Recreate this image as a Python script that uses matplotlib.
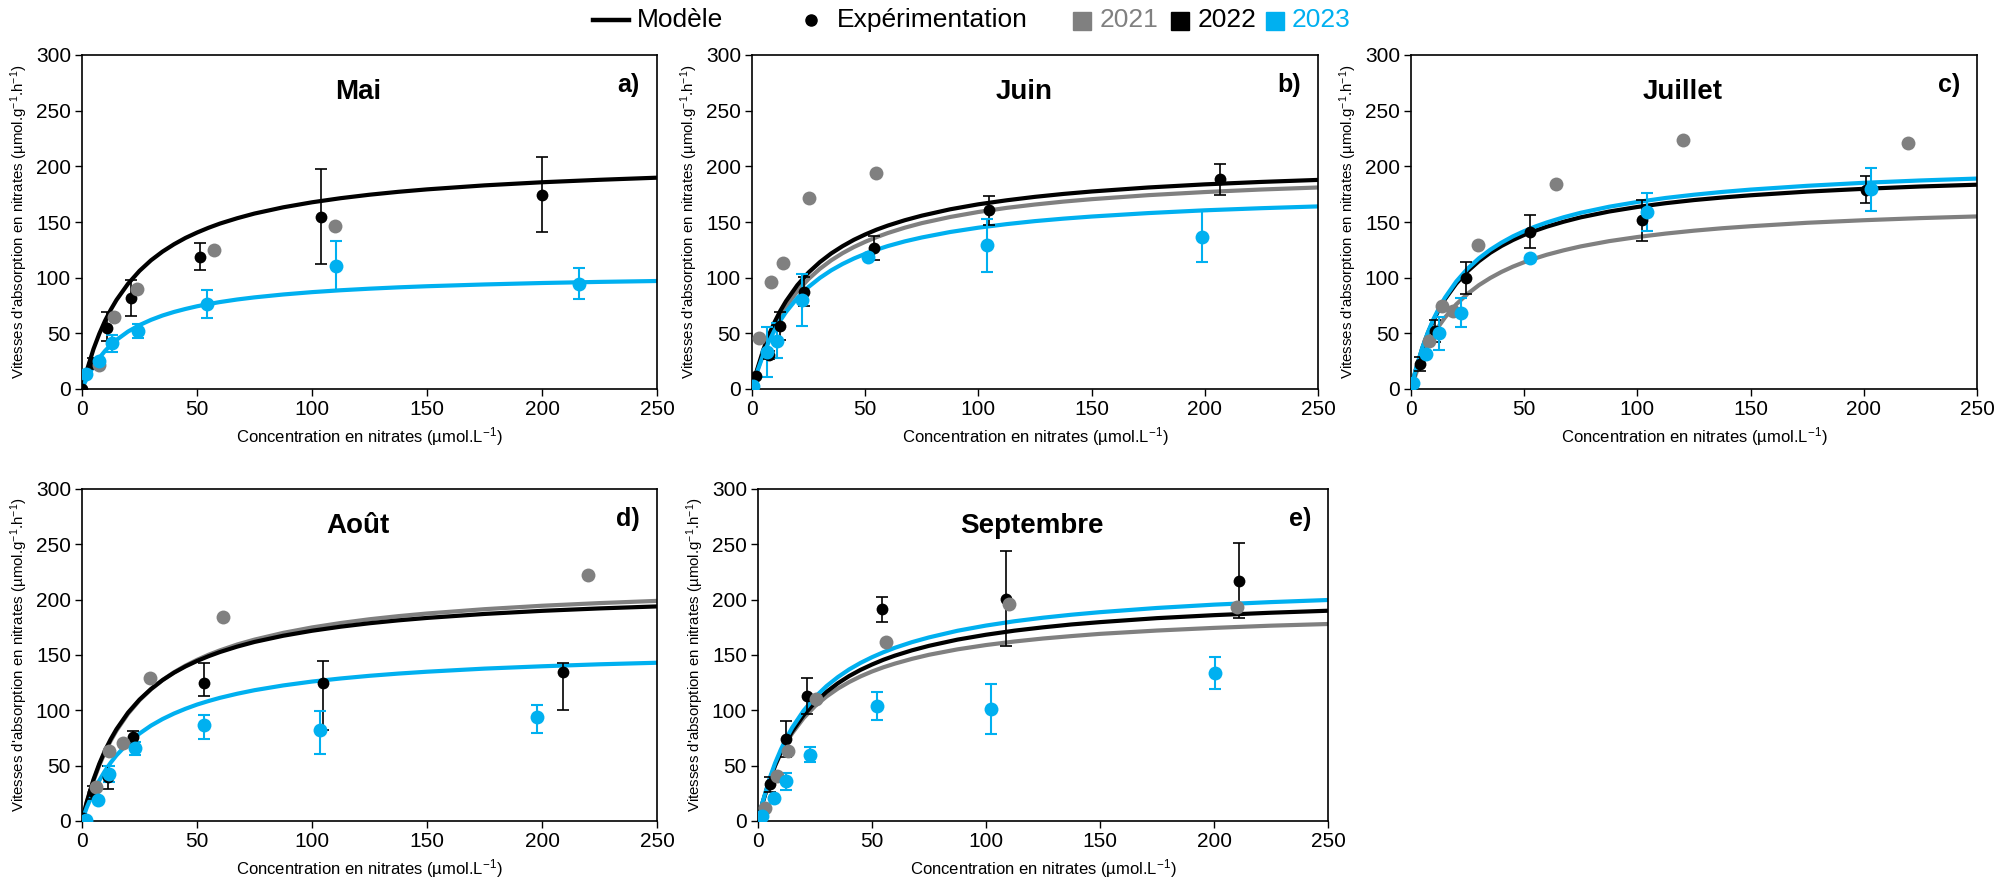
import matplotlib
matplotlib.use("Agg")
import matplotlib.pyplot as plt

# ------------------------------------------------------------------------------------------
# fonts
plt.rcParams['font.family'] = ['Liberation Sans Narrow', 'Liberation Sans', 'DejaVu Sans']
plt.rcParams['mathtext.fontset'] = 'custom'
plt.rcParams['mathtext.rm'] = 'Liberation Sans'
plt.rcParams['mathtext.it'] = 'Liberation Sans:italic'
plt.rcParams['mathtext.bf'] = 'Liberation Sans:bold'

col_2021 = "#808080"
col_2022 = "#000000"
col_2023 = "#00B0F0"

# ------------------------------------------------------------------------------------------
# model curves (values read on the figure at these concentrations)
x_model = [0, 2, 5, 7.5, 10, 12.5, 15, 20, 25, 30, 35, 40, 45, 50, 55, 60, 67.5, 75, 87.5, 100,
           112.5, 125, 137.5, 150, 175, 200, 225, 250]

mai_model_2022 = [0, 16.0, 35.9, 49.5, 61.2, 71.2, 80.0, 94.5, 106.1, 115.6, 123.4, 130.0, 135.7, 140.5,
                  144.8, 148.6, 153.4, 157.6, 163.2, 167.7, 171.4, 174.5, 177.1, 179.3, 182.9, 185.7, 187.9, 189.8]
mai_model_2023 = [0, 9.3, 20.4, 27.9, 34.2, 39.5, 44.1, 51.6, 57.4, 62.1, 66.0, 69.2, 71.9, 74.3,
                  76.3, 78.1, 80.4, 82.3, 84.9, 87.0, 88.7, 90.1, 91.3, 92.3, 93.9, 95.2, 96.2, 97.0]

juin_model_2021 = [0, 14.6, 32.8, 45.5, 56.3, 65.8, 74.0, 87.8, 98.9, 108.0, 115.6, 122.0, 127.5, 132.2,
                   136.4, 140.1, 144.9, 149.0, 154.5, 159.0, 162.7, 165.7, 168.3, 170.5, 174.1, 176.9, 179.2, 181.0]
juin_model_2022 = [0, 15.7, 35.3, 48.7, 60.2, 70.2, 78.8, 93.2, 104.7, 114.0, 121.8, 128.3, 134.0, 138.8,
                   143.1, 146.8, 151.6, 155.7, 161.4, 165.9, 169.5, 172.6, 175.2, 177.4, 181.0, 183.8, 186.0, 187.8]
juin_model_2023 = [0, 13.8, 31.0, 42.8, 52.9, 61.5, 69.1, 81.7, 91.7, 99.8, 106.6, 112.3, 117.2, 121.4,
                   125.1, 128.4, 132.6, 136.1, 141.0, 144.9, 148.1, 150.8, 153.0, 154.9, 158.0, 160.5, 162.4, 164.0]

juil_model_2021 = [0, 12.7, 28.6, 39.6, 49.0, 57.1, 64.2, 76.1, 85.5, 93.3, 99.7, 105.2, 109.9, 113.9,
                   117.4, 120.6, 124.6, 128.1, 132.8, 136.5, 139.6, 142.2, 144.4, 146.2, 149.3, 151.6, 153.5, 155.0]
juil_model_2022 = [0, 16.5, 36.7, 50.5, 62.0, 72.0, 80.6, 94.7, 105.8, 114.8, 122.3, 128.5, 133.8, 138.4,
                   142.3, 145.8, 150.3, 154.2, 159.4, 163.5, 166.9, 169.7, 172.0, 174.0, 177.3, 179.8, 181.9, 183.5]
juil_model_2023 = [0, 16.7, 37.2, 51.2, 63.1, 73.2, 82.0, 96.6, 108.1, 117.4, 125.1, 131.5, 137.1, 141.8,
                   146.0, 149.6, 154.3, 158.3, 163.7, 168.0, 171.6, 174.5, 177.0, 179.1, 182.5, 185.2, 187.3, 189.0]

aout_model_2021 = [0, 16.1, 36.3, 50.2, 62.2, 72.6, 81.7, 96.9, 109.1, 119.0, 127.3, 134.4, 140.4, 145.6,
                   150.2, 154.2, 159.5, 163.9, 170.0, 174.9, 178.9, 182.3, 185.1, 187.5, 191.4, 194.5, 196.9, 198.9]
aout_model_2022 = [0, 16.8, 37.5, 51.6, 63.7, 74.0, 83.0, 97.9, 109.7, 119.3, 127.3, 134.0, 139.7, 144.6,
                   148.9, 152.7, 157.6, 161.8, 167.4, 171.9, 175.6, 178.7, 181.3, 183.5, 187.1, 189.9, 192.1, 193.9]
aout_model_2023 = [0, 11.8, 26.4, 36.6, 45.3, 52.8, 59.4, 70.3, 79.0, 86.2, 92.1, 97.1, 101.4, 105.2,
                   108.4, 111.3, 115.0, 118.2, 122.5, 126.0, 128.8, 131.2, 133.2, 134.9, 137.7, 139.8, 141.6, 143.0]

sept_model_2021 = [0, 16.4, 36.4, 49.8, 61.2, 70.9, 79.3, 93.0, 103.8, 112.4, 119.6, 125.6, 130.7, 135.1,
                   138.9, 142.2, 146.5, 150.2, 155.1, 159.0, 162.2, 164.9, 167.1, 169.1, 172.1, 174.5, 176.5, 178.0]
sept_model_2022 = [0, 16.3, 36.5, 50.3, 62.1, 72.2, 81.0, 95.6, 107.2, 116.6, 124.4, 131.0, 136.6, 141.4,
                   145.7, 149.4, 154.2, 158.3, 163.9, 168.3, 172.0, 175.0, 177.6, 179.7, 183.3, 186.0, 188.2, 190.0]
sept_model_2023 = [0, 16.9, 37.9, 52.3, 64.5, 75.1, 84.4, 99.7, 111.9, 121.8, 130.0, 137.0, 142.9, 148.0,
                   152.5, 156.5, 161.6, 165.9, 171.9, 176.6, 180.5, 183.7, 186.4, 188.7, 192.5, 195.5, 197.8, 199.7]

# ------------------------------------------------------------------------------------------
# experimental points (concentration, uptake, lower / upper error)
mai_x_2021 = [7.5, 14, 24, 57.6, 110.2]
mai_y_2021 = [21.6, 65, 89.5, 124.9, 146.1]
mai_x_2022 = [0, 4.6, 10.7, 21.1, 51.2, 104, 200]
mai_y_2022 = [0, 23, 54.5, 81.5, 118.8, 154.5, 174.6]
mai_lo_2022 = [0, 5, 11, 16, 12, 42.5, 34]
mai_hi_2022 = [0, 5, 15, 16, 12, 43, 34]
mai_x_2023 = [1.7, 7.2, 13, 24.3, 54.5, 110.5, 216]
mai_y_2023 = [13.2, 25.1, 41, 52.1, 76.1, 110.5, 94.6]
mai_lo_2023 = [0, 2, 7.5, 6, 12.7, 22, 14]
mai_hi_2023 = [0, 2, 7.5, 6, 12.7, 22, 14]

juin_x_2021 = [3.2, 8.6, 13.9, 25, 54.8]
juin_y_2021 = [45.5, 95.8, 113.2, 171.6, 194]
juin_x_2022 = [1.8, 7.3, 12.4, 23.1, 53.9, 104.6, 206.5]
juin_y_2022 = [12, 30.5, 56.6, 87.4, 126.6, 160.5, 188.3]
juin_lo_2022 = [0, 4, 12.7, 13, 11, 12.8, 14]
juin_hi_2022 = [0, 4, 12.7, 13, 11, 12.8, 14]
juin_x_2023 = [0.3, 6.6, 11, 21.9, 51.4, 104, 198.6]
juin_y_2023 = [2.7, 33, 43.4, 80, 119, 129, 136.8]
juin_lo_2023 = [0, 22.5, 16, 23.7, 0, 23.5, 23]
juin_hi_2023 = [0, 22.5, 16, 23.7, 0, 23.5, 23]

juil_x_2021 = [7.8, 13.7, 18.7, 29.7, 64, 120, 219.7]
juil_y_2021 = [43.4, 74.6, 70.4, 129.3, 184, 224, 220.7]
juil_x_2022 = [0, 3.9, 10.7, 24.3, 52.5, 102, 200.9]
juil_y_2022 = [0, 22.5, 52.4, 99.7, 141.3, 151.8, 179]
juil_lo_2022 = [0, 6, 10, 14, 15, 19, 12]
juil_hi_2022 = [0, 6, 10, 14, 15, 18, 12]
juil_x_2023 = [1.1, 6.6, 12.2, 22.1, 52.5, 104.3, 203]
juil_y_2023 = [5.7, 31.2, 50, 68.6, 118, 159.3, 179.3]
juil_lo_2023 = [0, 2, 14.7, 13, 0, 17, 19]
juil_hi_2023 = [0, 2, 14.7, 13, 0, 17, 19]

aout_x_2021 = [6.2, 11.8, 17.8, 29.7, 61.1, 219.8]
aout_y_2021 = [30.3, 63.6, 70.9, 128.8, 184.7, 221.9]
aout_x_2022 = [0.6, 4.9, 11.5, 22, 52.9, 104.9, 209]
aout_y_2022 = [3, 25.8, 40, 75.7, 125, 124.6, 134.2]
aout_lo_2022 = [0, 6, 11, 6, 11.6, 42, 34]
aout_hi_2022 = [0, 6, 10, 6, 17.5, 20, 9]
aout_x_2023 = [1.8, 6.9, 11.8, 23, 53, 103.5, 198]
aout_y_2023 = [1, 19, 42.4, 65.7, 87, 82.6, 94.4]
aout_lo_2023 = [0, 0, 7.6, 6, 12.7, 22, 15]
aout_hi_2023 = [0, 0, 7.6, 6, 9, 16.5, 10]

sept_x_2021 = [3.1, 8.3, 13.1, 25.5, 56.1, 110.1, 210]
sept_y_2021 = [11.3, 40.4, 63.7, 110.4, 161.4, 196.4, 193]
sept_x_2022 = [0, 5.1, 12.4, 21.7, 54.6, 108.6, 211]
sept_y_2022 = [0, 33, 74, 112.8, 191.3, 201, 217]
sept_lo_2022 = [0, 7, 16, 16, 11.5, 43, 34]
sept_hi_2022 = [0, 7, 16, 16, 11.5, 43, 34]
sept_x_2023 = [1.9, 7, 12.4, 22.6, 52.3, 102.4, 200.3]
sept_y_2023 = [4.7, 21, 35.7, 60, 104, 101, 134]
sept_lo_2023 = [0, 0, 8, 6.8, 13, 22, 14.5]
sept_hi_2023 = [0, 0, 8, 6.8, 13, 23, 14.5]

month_names = ["Mai", "Juin", "Juillet", "Août", "Septembre"]
panel_letters = ["a)", "b)", "c)", "d)", "e)"]

dict_panels = {
    "Mai": {
        "models": [(None, col_2021), (mai_model_2022, col_2022), (mai_model_2023, col_2023)],
        "x_2021": mai_x_2021, "y_2021": mai_y_2021,
        "pts": [(mai_x_2022, mai_y_2022, mai_lo_2022, mai_hi_2022, col_2022),
                (mai_x_2023, mai_y_2023, mai_lo_2023, mai_hi_2023, col_2023)],
    },
    "Juin": {
        "models": [(juin_model_2021, col_2021), (juin_model_2022, col_2022), (juin_model_2023, col_2023)],
        "x_2021": juin_x_2021, "y_2021": juin_y_2021,
        "pts": [(juin_x_2022, juin_y_2022, juin_lo_2022, juin_hi_2022, col_2022),
                (juin_x_2023, juin_y_2023, juin_lo_2023, juin_hi_2023, col_2023)],
    },
    "Juillet": {
        "models": [(juil_model_2021, col_2021), (juil_model_2022, col_2022), (juil_model_2023, col_2023)],
        "x_2021": juil_x_2021, "y_2021": juil_y_2021,
        "pts": [(juil_x_2022, juil_y_2022, juil_lo_2022, juil_hi_2022, col_2022),
                (juil_x_2023, juil_y_2023, juil_lo_2023, juil_hi_2023, col_2023)],
    },
    "Août": {
        "models": [(aout_model_2021, col_2021), (aout_model_2022, col_2022), (aout_model_2023, col_2023)],
        "x_2021": aout_x_2021, "y_2021": aout_y_2021,
        "pts": [(aout_x_2022, aout_y_2022, aout_lo_2022, aout_hi_2022, col_2022),
                (aout_x_2023, aout_y_2023, aout_lo_2023, aout_hi_2023, col_2023)],
    },
    "Septembre": {
        "models": [(sept_model_2021, col_2021), (sept_model_2022, col_2022), (sept_model_2023, col_2023)],
        "x_2021": sept_x_2021, "y_2021": sept_y_2021,
        "pts": [(sept_x_2022, sept_y_2022, sept_lo_2022, sept_hi_2022, col_2022),
                (sept_x_2023, sept_y_2023, sept_lo_2023, sept_hi_2023, col_2023)],
    },
}

# axes positions in pixels: left, bottom (from figure bottom), width, height
W, H = 2013, 883
list_boxes = [
    (82, 494, 575, 334),
    (752, 494, 566, 334),
    (1411, 494, 566, 334),
    (82, 62, 575, 332),
    (758, 62, 570, 332),
]

fig = plt.figure(figsize=(W / 100, H / 100), dpi=100)

for ind, crrt_month in enumerate(month_names):
    l, b, w, h = list_boxes[ind]
    ax = fig.add_axes([l / W, b / H, w / W, h / H])
    crrt = dict_panels[crrt_month]

    for crrt_model, crrt_color in crrt["models"]:
        if crrt_model is None:
            continue
        ax.plot(x_model, crrt_model, color=crrt_color, lw=3.0, zorder=2, solid_capstyle="butt")

    for (px, py, plo, phi, pcol) in crrt["pts"][:1]:
        ax.errorbar(px, py, yerr=[plo, phi], fmt="none", ecolor=pcol, elinewidth=1.2, capsize=4, capthick=1.2, zorder=3)
        ax.plot(px, py, "o", color=pcol, ms=8.5, mec="none", zorder=4)

    ax.plot(crrt["x_2021"], crrt["y_2021"], "o", color=col_2021, ms=10, mec="none", zorder=4)

    for (px, py, plo, phi, pcol) in crrt["pts"][1:]:
        ax.errorbar(px, py, yerr=[plo, phi], fmt="none", ecolor=pcol, elinewidth=1.5, capsize=4, capthick=1.5, zorder=3)
        ax.plot(px, py, "o", color=pcol, ms=10, mec="none", zorder=4)

    ax.set_xlim(0, 250)
    ax.set_ylim(0, 300)
    ax.set_xticks(range(0, 251, 50))
    ax.set_yticks(range(0, 301, 50))
    ax.tick_params(direction="out", length=5, width=1, labelsize=15, pad=3)
    for sp in ax.spines.values():
        sp.set_linewidth(1.2)

    ax.set_xlabel("Concentration en nitrates (µmol.L$^{-1}$)", fontsize=12, labelpad=4)
    ax.set_ylabel("Vitesses d'absorption en nitrates (µmol.g$^{-1}$.h$^{-1}$)", fontsize=10.8, labelpad=4)

    ax.text(0.48, 0.89, crrt_month, transform=ax.transAxes, ha="center", va="center",
            fontsize=20, fontweight="bold")
    ax.text(0.97, 0.91, panel_letters[ind], transform=ax.transAxes, ha="right", va="center",
            fontsize=18, fontweight="bold")

# ------------------------------------------------------------------------------------------
# legend on top, drawn in pixel coordinates
ax_leg = fig.add_axes([0, 0, 1, 1], zorder=10)
ax_leg.set_xlim(0, W)
ax_leg.set_ylim(H, 0)
ax_leg.axis("off")
ax_leg.patch.set_alpha(0)

y_leg = 20
ax_leg.plot([593, 629], [y_leg, y_leg], color="k", lw=3.2)
ax_leg.text(637, y_leg, "Modèle", fontsize=19, va="center", ha="left")
ax_leg.plot([811], [y_leg], "o", color="k", ms=8)
ax_leg.text(837, y_leg, "Expérimentation", fontsize=19, va="center", ha="left")
ax_leg.plot([1082], [y_leg + 1], "s", color=col_2021, ms=13)
ax_leg.text(1100, y_leg, "2021", fontsize=19, va="center", ha="left", color=col_2021)
ax_leg.plot([1180], [y_leg + 1], "s", color=col_2022, ms=13)
ax_leg.text(1198, y_leg, "2022", fontsize=19, va="center", ha="left", color=col_2022)
ax_leg.plot([1275], [y_leg + 1], "s", color=col_2023, ms=13)
ax_leg.text(1292, y_leg, "2023", fontsize=19, va="center", ha="left", color=col_2023)

plt.savefig("out.png", dpi=100)
